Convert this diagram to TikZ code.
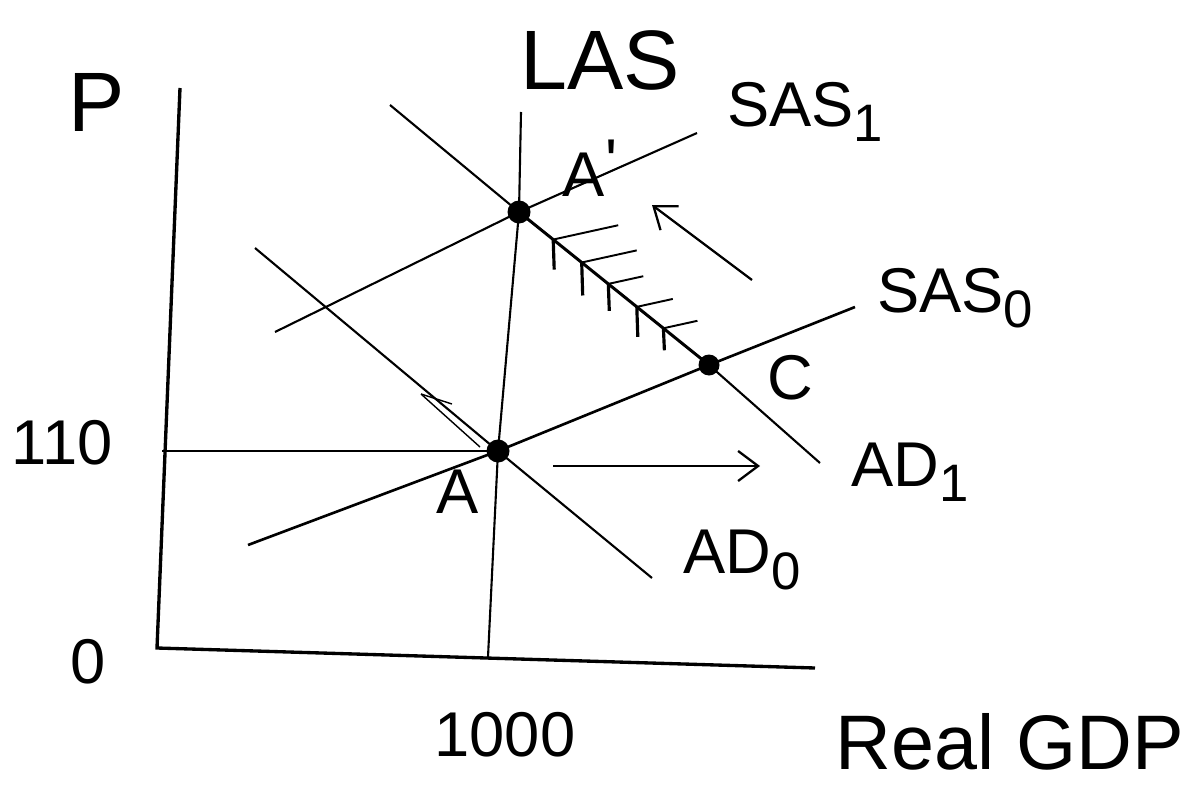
\documentclass[tikz,border=0pt]{standalone}
\usepackage{fontspec}
\setmainfont{Liberation Sans}
\usetikzlibrary{arrows.meta,positioning,calc}
\newcommand\lowsub[1]{\raisebox{-0.45ex}{\fontsize{30}{32}\selectfont #1}}

\begin{document}
\begin{tikzpicture}[x=0.2mm, y=-0.2mm,
  ax/.style={line width=1.9pt},
  crv/.style={line width=1.2pt},
  pt/.style={circle, fill=black, inner sep=0pt, minimum size=4.6mm},
  lbl/.style={font=\fontsize{36}{40}\selectfont, inner sep=0pt},
  big/.style={font=\fontsize{48}{52}\selectfont, inner sep=0pt},
  mv/.style={line width=1.3pt, -{Straight Barb[length=4mm,width=6mm]}},
]
\useasboundingbox (0,0) rectangle (1201,792);
% axes
\coordinate (ytop) at (180,88);
\coordinate (o) at (157,648);
\coordinate (xend) at (815,668);
\draw[ax] (ytop) -- (o) -- (xend);
% equilibrium points
\node[pt] (A) at (498,451) {};
\node[pt] (A1) at (519,212) {};
\node[pt, minimum size=4.2mm] (C) at (709,365) {};
% curve ends
\coordinate (las0) at (488,657);  \coordinate (las1) at (521,112);
\coordinate (sas00) at (248,545); \coordinate (sas01) at (855,307);
\coordinate (sas10) at (275,332); \coordinate (sas11) at (697,133);
\coordinate (ad00) at (255,248);  \coordinate (ad01) at (652,578);
\coordinate (ad10) at (390,105);  \coordinate (ad11) at (820,463);
\coordinate (p110) at (162,451);
% curves
\draw[crv] (las0) -- (A.center) -- (A1.center) -- (las1);
\draw[crv, line width=1.5pt] (sas00) -- (A.center) -- (C.center) -- (sas01);
\draw[crv] (sas10) -- (A1.center) -- (sas11);
\draw[crv] (ad00) -- (A.center) -- (ad01);
\draw[crv] (ad10) -- (A1.center);
\draw[crv, line width=1.7pt] (A1.center) -- (C.center);
\draw[crv] (C.center) -- (ad11);
\draw[line width=0.9pt] (p110) -- (A.center);
% hatches between A' and C
\foreach \t/\len/\dn in {0.18/65/30, 0.33/55/33, 0.47/35/27, 0.62/36/30, 0.76/34/22}{
  \coordinate (h) at ($(A1.center)!\t!(C.center)$);
  \draw[line width=1.1pt] (h) -- ++(\len,-0.22*\len);
  \draw[line width=1.8pt] (h) -- ++(1,\dn);
}
% movement along AD0
\coordinate (m0) at (421,394); \coordinate (m1) at (480,447);
\coordinate (m2) at (452,404);
\draw[line width=0.8pt] (m0) -- (m1);
\draw[line width=0.8pt] (m0) -- (m2);
% shifts
\coordinate (r0) at (553,466); \coordinate (r1) at (760,466);
\coordinate (u0) at (752,280); \coordinate (u1) at (652,205);
\draw[mv] (r0) -- (r1);
\draw[mv] (u0) -- (u1);
% labels
\node[big] (lP) at (97,102) {P};
\node[big] (lLAS) at (600,60) {LAS};
\node[lbl] (lSAS1) at (805,112) {SAS\lowsub{1}};
\node[lbl] (lA1) at (590,168) {A\raisebox{0.4ex}{\textquotesingle}};
\node[lbl] (lSAS0) at (955,298) {SAS\lowsub{0}};
\node[lbl] (lC) at (790,378) {C};
\node[lbl] (lAD1) at (910,472) {AD\lowsub{1}};
\node[lbl] (lA) at (458,492) {A};
\node[lbl] (lAD0) at (742,560) {AD\lowsub{0}};
\node[lbl] (l110) at (62,443) {110};
\node[lbl] (l0) at (88,662) {0};
\node[lbl] (l1000) at (505,735) {1000};
\node[font=\fontsize{44}{48}\selectfont, inner sep=0pt] (lgdp) at (1010,742) {Real GDP};
\end{tikzpicture}
\end{document}
